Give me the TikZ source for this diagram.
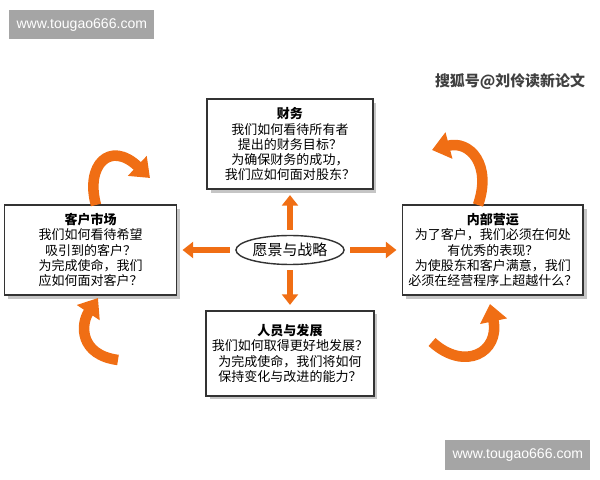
\documentclass[tikz,border=0pt]{standalone}
\usepackage{fontspec}
\setmainfont{Liberation Sans}
\newfontfamily\cjk{Noto Sans CJK SC}
\usetikzlibrary{positioning,shapes.geometric,shadows,arrows.meta}
\definecolor{arrorange}{RGB}{240,110,20}
\definecolor{markgray}{RGB}{165,165,165}
\tikzset{
  card/.style={draw=black!80, fill=white, thick, minimum width=3.32cm, minimum height=1.8cm,
    align=center, font=\cjk\fontsize{7.4}{8.6}\selectfont,
    drop shadow={shadow xshift=2pt, shadow yshift=-2pt, fill=black!45}},
  goal/.style={ellipse, draw=black!80, thick, fill=white, minimum width=2cm, minimum height=0.58cm,
    inner sep=0.5pt, font=\cjk\fontsize{8.5}{10}\selectfont},
  push/.style={draw=arrorange, line width=3.5pt, -{Triangle[width=9pt,length=6pt]}, shorten <=3pt, shorten >=3pt},
  loop/.style={draw=arrorange, line width=6pt, -{Triangle[width=15pt,length=10pt]}},
  wmark/.style={fill=markgray, text=white, font=\fontsize{8}{9}\selectfont, inner sep=0pt}
}
\begin{document}
\begin{tikzpicture}[x=0.02cm, y=-0.02cm]
	\useasboundingbox (0,0) rectangle (600,480);
	% Define nodes
	\node[goal] (vision) at (290,250) {愿景与战略};
	\node[card, above=0.9cm of vision] (finance) {\textbf{财务}\\我们如何看待所有者\\提出的财务目标？\\为确保财务的成功，\\我们应如何面对股东？};
	\node[card, below=0.9cm of vision, minimum height=1.7cm] (growth) {\textbf{人员与发展}\\我们如何取得更好地发展？\\为完成使命，我们将如何\\保持变化与改进的能力？};
	\node[card, left=1.16cm of vision, minimum width=3.44cm] (market) {\textbf{客户市场}\\我们如何看待希望\\吸引到的客户？\\为完成使命，我们\\应如何面对客户？};
	\node[card, right=1.14cm of vision] (process) {\textbf{内部营运}\\为了客户，我们必须在何处\\有优秀的表现？\\为使股东和客户满意，我们\\必须在经营程序上超越什么？};

	\draw[push] (vision) -- (finance);
	\draw[push] (vision) -- (growth);
	\draw[push] (vision) -- (market);
	\draw[push] (vision) -- (process);

	% Loops
	\draw[loop] (96,205) .. controls (85,165) and (110,140) .. (150,178);
	\draw[loop] (478,205) .. controls (492,165) and (470,140) .. (432,150);
	\draw[loop] (118,360) .. controls (80,355) and (80,325) .. (98,298);
	\draw[loop] (432,342) .. controls (465,372) and (500,352) .. (490,304);

	% Marks
	\node[wmark, minimum width=2.9cm, minimum height=0.58cm, anchor=north west] (markA) at (9,10) {www.tougao666.com};
	\node[wmark, minimum width=2.9cm, minimum height=0.6cm, anchor=north west] (markB) at (445,440) {www.tougao666.com};
	\node[font=\cjk\bfseries\fontsize{8.5}{10}\selectfont, text=black!75] (source) at (510,82) {搜狐号@刘伶读新论文};
\end{tikzpicture}
\end{document}
